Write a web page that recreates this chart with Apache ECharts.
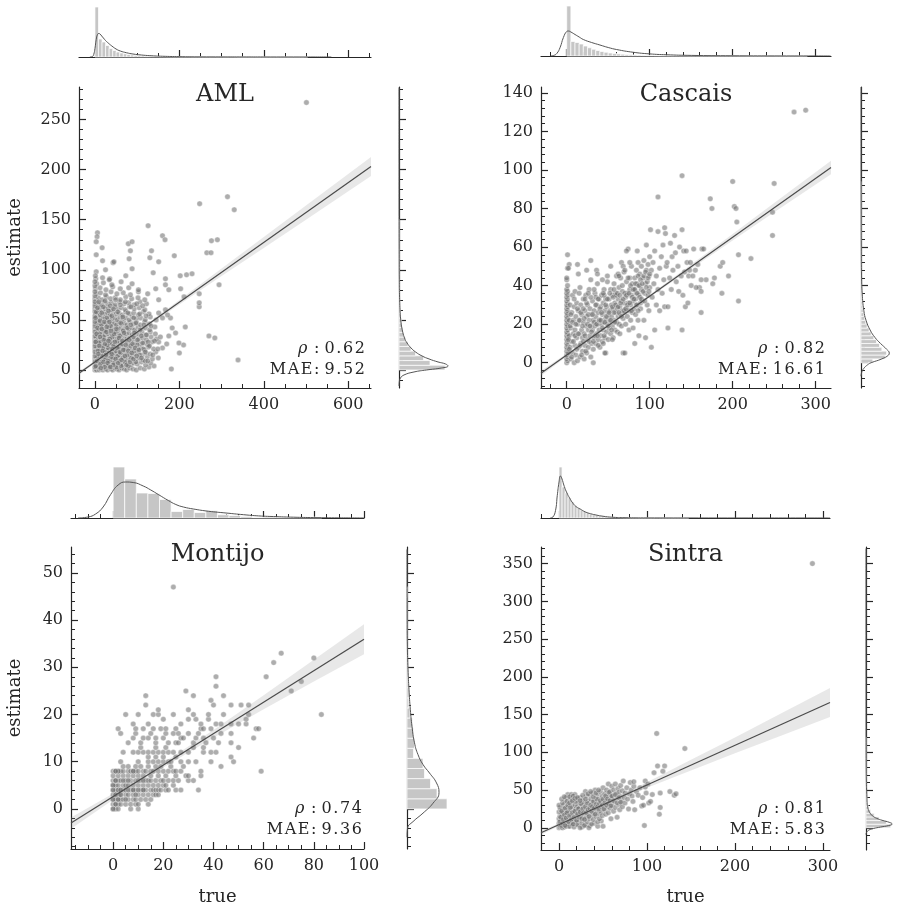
<!DOCTYPE html>
<html><head><meta charset="utf-8">
<script src="https://cdn.jsdelivr.net/npm/echarts@6/dist/echarts.min.js"></script>
<style>html,body{margin:0;padding:0;background:#fff}#c{width:898px;height:910px}</style>
</head><body><div id="c"></div>
<script>
// ================= DATA =================
const panelTitles = ['AML', 'Cascais', 'Montijo', 'Sintra'];
const statRho = ['0.62', '0.82', '0.74', '0.81'];
const statMae = ['9.52', '16.61', '9.36', '5.83'];
const xLabelText = 'true';
const yLabelText = 'estimate';

// axis ranges and tick labels
const amlXRange = [-37.8, 654], amlYRange = [-18, 282.5];
const cascaisXRange = [-31, 318.5], cascaisYRange = [-13.1, 143];
const montijoXRange = [-16.8, 100], montijoYRange = [-8.5, 55.5];
const sintraXRange = [-20.5, 308], sintraYRange = [-29.4, 372];
const amlXTicks = [0, 200, 400, 600], amlYTicks = [0, 50, 100, 150, 200, 250];
const cascaisXTicks = [0, 100, 200, 300], cascaisYTicks = [0, 20, 40, 60, 80, 100, 120, 140];
const montijoXTicks = [0, 20, 40, 60, 80, 100], montijoYTicks = [0, 10, 20, 30, 40, 50];
const sintraXTicks = [0, 100, 200, 300], sintraYTicks = [0, 50, 100, 150, 200, 250, 300, 350];

// scatter points [true, estimate]
const amlPoints = [
[0,0],[2,1],[4,0],[7,2],[10,0],[13,1],[16,3],[19,0],[22,2],[26,1],[30,0],[34,2],[38,1],[42,0],[47,2],[52,1],[57,0],[63,2],[69,1],[75,0],[82,2],[90,1],[98,0],[107,2],[117,1],[128,3],[140,4],[181,1],
[1,6],[5,5],[9,7],[12,5],[17,6],[21,8],[25,5],[29,7],[33,6],[37,5],[41,8],[46,6],[50,5],[55,7],[60,6],[66,5],[72,8],[78,6],[85,5],[92,7],[100,6],[110,8],[120,5],[132,7],
[0,11],[3,12],[6,10],[10,13],[14,11],[18,12],[23,10],[27,13],[31,11],[36,12],[40,10],[45,13],[50,11],[54,12],[59,10],[64,13],[70,11],[76,12],[83,10],[90,13],[97,11],[105,12],[114,10],[124,13],[136,11],[150,12],
[2,16],[5,15],[9,17],[13,16],[17,18],[21,15],[25,17],[30,16],[34,18],[39,15],[43,17],[48,16],[53,18],[58,15],[63,17],[69,16],[75,18],[81,15],[88,17],[95,16],[103,18],[112,15],[121,17],[131,16],[144,18],[200,17],
[0,21],[4,22],[8,20],[12,23],[16,21],[20,22],[24,20],[29,23],[33,21],[38,22],[42,20],[47,23],[52,21],[57,22],[62,20],[68,23],[74,21],[80,22],[87,20],[94,23],[101,21],[109,22],[118,20],[127,23],[139,21],[160,22],
[1,26],[5,27],[9,25],[14,28],[18,26],[22,27],[27,25],[31,28],[36,26],[40,27],[45,25],[50,28],[55,26],[60,27],[66,25],[72,28],[78,26],[85,27],[92,25],[99,28],[107,26],[116,27],[125,25],[135,28],[151,28],[170,26],[210,25],[199,27],
[0,31],[3,32],[7,30],[11,33],[15,31],[19,32],[24,30],[28,33],[33,31],[37,32],[42,30],[47,33],[52,31],[57,32],[63,30],[69,33],[75,31],[82,32],[89,30],[96,33],[104,31],[113,32],[122,30],[133,33],[146,31],[284,32],
[2,36],[6,35],[10,38],[14,36],[19,37],[23,35],[28,38],[32,36],[37,37],[41,35],[46,38],[51,36],[56,37],[62,35],[68,38],[74,36],[81,37],[88,35],[95,38],[103,36],[112,37],[121,35],[131,38],[143,36],[175,34],[191,37],[270,34],
[0,41],[4,42],[8,40],[13,43],[17,41],[22,42],[26,40],[31,43],[36,41],[40,42],[45,40],[50,43],[55,41],[61,42],[67,40],[73,43],[80,41],[87,42],[94,40],[102,43],[111,41],[120,42],[130,40],[142,43],[183,42],
[1,46],[5,47],[10,45],[15,48],[20,46],[25,47],[30,45],[35,48],[40,46],[46,47],[51,45],[57,48],[63,46],[69,47],[76,45],[83,48],[91,46],[99,47],[108,45],[118,48],[129,46],[214,43],
[0,51],[4,52],[9,50],[14,53],[19,51],[24,52],[30,50],[35,53],[41,51],[47,52],[53,50],[59,53],[66,51],[73,52],[81,50],[89,53],[98,51],[108,52],[119,50],[131,53],[160,52],[179,52],
[2,56],[7,57],[12,55],[18,58],[24,56],[30,57],[36,55],[43,58],[50,56],[57,57],[65,55],[73,58],[82,56],[92,57],[103,55],[115,58],[128,56],[151,57],[172,55],
[0,61],[5,62],[11,60],[17,63],[24,61],[31,62],[38,60],[46,63],[54,61],[63,62],[72,60],[82,63],[93,61],[105,62],[118,60],[167,60],[247,63],
[1,66],[7,67],[14,65],[22,68],[30,66],[39,67],[48,65],[58,68],[69,66],[80,67],[93,65],[107,68],[122,66],[247,67],
[0,71],[8,72],[17,70],[27,73],[37,71],[48,72],[60,70],[73,73],[87,71],[102,72],[118,70],[151,70],[211,73],
[3,76],[13,77],[25,75],[38,78],[52,76],[67,77],[84,75],[103,78],[125,76],[247,76],
[1,81],[12,82],[26,80],[42,83],[60,81],[80,82],[103,80],[144,81],[175,80],[203,81],
[4,86],[20,87],[40,85],[62,88],[88,86],[167,85],[294,85],
[2,91],[18,92],[35,91],[34,90],[73,94],[167,91],[202,94],[217,95],[230,96],
[88,101],[138,97],[3,98],[25,100],[43,107],[45,108],[18,109],[17,122],[6,137],[5,133],[3,128],[3,115],[79,126],[88,128],[84,119],[81,111],
[126,144],[160,134],[166,130],[188,114],[151,108],[134,119],[130,112],[248,166],[265,117],[275,117],[276,129],[290,130],[314,173],[330,160],[501,267],[339,10],
[1,3],[3,8],[6,13],[8,3],[11,19],[12,28],[15,8],[16,24],[18,4],[20,33],[21,11],[23,39],[24,18],[26,6],[27,29],[29,14],[31,22],[32,4],[33,42],[35,9],[36,27],[38,17],[39,3],[41,33],[43,12],[44,24],[46,7],[48,38],[49,19],[51,3],[53,29],[54,14],[56,23],[58,9],[59,34],[61,17],[62,4],[64,26],[66,12],[67,39],[70,20],[71,8],[74,29],[77,15],[79,4],[84,24],[86,12],[91,33],[93,19],[97,8],[100,25],[106,15],[110,34],[115,21],[119,9],[126,28],
[0,3],[0,8],[0,14],[0,18],[0,24],[0,28],[0,34],[0,38],[0,44],[0,48],[0,54],[0,58],[0,64],[0,68],[0,74],[0,78],[0,84],[0,88],[1,94],
[2,4],[5,9],[7,19],[9,27],[11,36],[13,6],[15,45],[17,14],[19,22],[21,30],[23,3],[25,11],[27,38],[29,25],[31,9],[33,17],[35,31],[37,44],[39,13],[41,21],[43,5],[45,36],[47,28],[49,11],[51,41],[53,22],[55,7],[57,32],[59,18],[61,47],[63,10],[65,29],[67,20],[69,37],[71,14],[73,25],[75,5],[77,42],[79,19],[81,30],[83,8],[85,45],[87,17],[89,26],[91,11],[93,37],[95,22],[97,47],[99,14],[101,30],[104,20],[107,40],[110,12],[113,27],[116,45],[119,18],[122,35],[125,9],[129,24],[133,44],[137,15],[141,29],[145,50],[149,21],[155,33],
[1,52],[3,58],[6,62],[9,68],[12,49],[16,57],[20,63],[24,69],[28,52],[32,59],[36,64],[40,54],[44,61],[49,70],[54,58],[60,65],[66,53],[72,68],[78,57],[85,63],[92,52],[99,66],[106,56],[113,64],[121,54],
[2,28],[4,36],[6,42],[8,16],[10,24],[12,33],[14,2],[16,41],[18,19],[20,8],[22,48],[24,26],[26,15],[28,43],[30,7],[32,29],[34,48],[36,3],[38,39],[40,16]
];

const cascaisPoints = [
[0,0],[1,1],[0,2],[1,3],[0,4],[1,5],[0,6],[1,7],[0,8],[1,9],[0,10],[1,11],[0,12],[1,13],[0,14],[1,15],[0,16],[1,17],[0,18],[1,19],[0,20],[1,21],[0,22],[1,23],[0,24],[1,25],[0,26],[1,27],[0,28],[1,29],[0,30],[1,31],[0,32],[1,33],[0,34],[1,35],[0,36],[1,37],[0,38],[1,40],[0,43],[0,44],[1,49],[1,56],[3,51],[2,49],
[2,5],[3,14],[3,22],[4,8],[4,30],[5,2],[5,18],[6,11],[6,26],[7,5],[7,35],[8,15],[8,22],[9,0],[9,29],[10,9],[10,17],[10,37],
[11,4],[11,24],[12,13],[12,31],[13,1],[13,20],[14,8],[14,27],[15,15],[15,36],[16,3],[16,22],[17,10],[17,30],[18,17],[18,25],[19,6],[19,13],[20,21],[20,33],[13,51],[16,39],[14,46],
[21,2],[21,15],[22,27],[22,9],[23,19],[23,35],[24,5],[24,24],[25,12],[25,30],[26,17],[26,8],[27,22],[27,38],[28,14],[28,28],[29,3],[29,19],[30,10],[30,25],[29,43],[29,53],[24,48],
[31,17],[31,32],[32,7],[32,22],[33,13],[33,27],[34,19],[34,36],[35,10],[35,24],[36,15],[36,30],[37,20],[37,41],[38,12],[38,26],[39,17],[39,33],[40,22],[40,8],[32,0],[36,48],[37,46],[35,34],
[41,14],[41,29],[42,20],[42,35],[43,11],[43,25],[44,17],[44,31],[45,21],[45,38],[46,13],[46,27],[47,23],[47,33],[48,16],[48,29],[49,20],[49,42],[50,25],[50,12],[43,43],[45,35],[47,5],[46,5],
[51,18],[51,33],[52,27],[52,22],[53,15],[53,38],[54,24],[54,30],[55,19],[55,35],[56,28],[56,13],[57,22],[57,41],[58,31],[58,17],[59,26],[59,36],[60,21],[60,45],[53,50],[58,35],
[61,28],[61,16],[62,33],[62,24],[63,20],[63,39],[64,29],[64,15],[65,25],[65,44],[66,32],[66,19],[67,27],[67,37],[68,23],[68,5],[69,31],[69,47],[70,26],[70,5],[66,52],[68,50],[62,46],
[71,34],[71,20],[72,28],[72,42],[73,24],[73,36],[74,31],[74,59],[75,27],[75,17],[76,38],[76,44],[77,30],[77,22],[78,35],[78,50],[79,26],[79,41],[80,32],[80,18],[72,58],[85,58],
[81,38],[81,28],[82,44],[82,10],[83,33],[83,25],[84,48],[84,36],[85,30],[85,41],[86,22],[86,52],[87,35],[87,14],[88,46],[88,40],[89,28],[89,31],[90,38],[90,50],[91,32],[86,27],
[92,44],[93,22],[93,53],[94,36],[95,41],[95,13],[96,48],[97,30],[98,35],[98,51],[99,27],[99,45],[100,39],[100,55],[101,69],[102,8],[102,48],[96,61],
[103,34],[104,52],[105,41],[106,17],[106,58],[108,45],[108,30],[110,38],[110,68],[110,86],[112,49],[112,27],[114,55],[115,36],[116,61],[117,43],[118,70],[118,29],[119,67],[120,50],[122,18],[122,29],[121,52],
[124,44],[125,62],[126,38],[127,55],[128,48],[130,66],[131,57],[132,42],[134,50],[135,37],[136,60],[138,45],[139,69],[139,97],[140,35],[141,58],[142,47],[143,29],[144,58],[145,52],[146,31],[147,45],[148,48],[149,52],[150,40],[139,17],
[152,45],[155,48],[158,51],[160,39],[162,26],[163,59],[165,59],[162,37],[168,43],[173,85],[175,80],[176,41],[178,44],[185,50],[187,36],[188,52],[195,45],[200,94],[202,81],[204,80],[205,73],[207,32],[207,56],[222,54],[250,93],[248,78],[248,66],[274,130],[288,131],[162,43],[153,59],[156,39],
[2,12],[3,7],[4,19],[5,25],[6,3],[7,21],[8,11],[9,33],[10,14],[11,20],[12,7],[13,28],[14,15],[15,22],[16,9],[17,26],[18,4],[19,19],[20,11],[20,28],
[21,23],[22,14],[23,6],[24,31],[25,20],[26,25],[27,11],[28,19],[29,34],[30,16],[31,25],[32,11],[33,21],[34,14],[35,30],[36,20],[37,14],[38,33],[39,22],[40,28],[22,33],[26,36],[33,38],[38,9],
[41,22],[42,26],[43,18],[44,36],[45,14],[46,21],[47,30],[48,24],[49,33],[50,19],[51,26],[52,36],[53,22],[54,17],[55,29],[56,34],[57,26],[58,21],[59,30],[60,35],[44,10],[55,12],[49,45],[57,38],
[61,36],[62,29],[63,26],[64,35],[65,31],[66,24],[67,40],[68,33],[69,27],[70,36],[71,28],[72,35],[73,30],[74,44],[75,36],[76,31],[77,40],[78,27],[79,34],[80,38],[63,45],[70,48],[76,52],
[81,33],[82,38],[83,41],[84,30],[85,36],[86,45],[87,40],[88,34],[89,43],[90,33],[91,41],[92,37],[93,45],[94,32],[95,47],[96,39],[97,42],[98,44],[99,37],[100,46]
];

const montijoPoints = [
[0,0],[1,0],[2,0],[7,0],[10,0],
[0,1],[1,1],[2,1],[3,1],[5,1],[7,1],[9,1],[10,1],[14,1],
[0,2],[1,2],[2,2],[3,2],[4,2],[6,2],[8,2],[9,2],[11,2],[13,2],[15,2],
[0,3],[1,3],[2,3],[3,3],[5,3],[6,3],[8,3],[10,3],[12,3],[14,3],[16,3],[17,3],[18,3],
[0,4],[1,4],[2,4],[3,4],[4,4],[5,4],[7,4],[8,4],[9,4],[11,4],[12,4],[13,4],[15,4],[16,4],[17,4],[18,4],[19,4],[21,4],[22,4],[25,4],[27,4],[34,4],
[0,5],[1,5],[2,5],[4,5],[5,5],[6,5],[8,5],[10,5],[12,5],[14,5],[16,5],[18,5],[20,5],[21,5],[24,5],
[0,6],[1,6],[2,6],[3,6],[5,6],[7,6],[9,6],[11,6],[13,6],[14,6],[15,6],[17,6],[19,6],[20,6],[22,6],[24,6],[26,6],[30,6],[32,6],
[0,7],[2,7],[4,7],[6,7],[8,7],[10,7],[12,7],[15,7],[18,7],[21,7],[25,7],[29,7],[30,7],[35,7],
[0,8],[1,8],[2,8],[3,8],[4,8],[6,8],[7,8],[8,8],[9,8],[10,8],[12,8],[13,8],[15,8],[16,8],[18,8],[20,8],[22,8],[24,8],[25,8],[27,8],[35,8],[59,8],
[4,9],[6,9],[9,9],[11,9],[14,9],[17,9],[19,9],[23,9],[28,9],[43,9],
[3,10],[10,10],[14,10],[16,10],[18,10],[20,10],[22,10],[23,10],[27,10],[30,10],[33,10],[39,10],[48,10],
[14,11],[17,11],[20,11],[25,11],[47,11],
[4,12],[8,12],[10,12],[12,12],[14,12],[16,12],[18,12],[20,12],[22,12],[24,12],[27,12],[30,12],[36,12],[39,12],[41,12],
[11,13],[17,13],[21,13],[32,13],[36,13],[50,13],
[6,14],[11,14],[17,14],[22,14],[25,14],[26,14],[32,14],[37,14],[42,14],[47,14],
[8,15],[12,15],[14,15],[17,15],[20,15],[27,15],[28,15],[33,15],[36,15],[40,15],[56,15],
[3,16],[9,16],[15,16],[21,16],[24,16],[26,16],[30,16],[34,16],[43,16],[47,16],
[2,17],[9,17],[12,17],[16,17],[19,17],[21,17],[25,17],[35,17],[36,17],[39,17],[57,17],[58,17],
[8,18],[14,18],[27,18],[35,18],[41,18],[43,18],[47,18],[50,18],[53,18],
[20,19],[30,19],[33,19],[38,19],[53,19],
[5,20],[10,20],[16,20],[18,20],[24,20],[32,20],[38,20],[44,20],[54,20],[83,20],
[18,21],[30,21],
[13,22],[40,22],[47,22],[51,22],[54,22],
[39,23],[13,24],[32,24],[44,24],[29,25],[71,25],[41,26],[75,27],[41,28],[61,28],[64,31],[80,32],[67,33],[24,47],
[0,2],[1,3],[2,4],[0,5],[1,6],[2,8],[3,4],[4,6],[5,2],[6,4],[8,4],[9,3],[10,6],[12,4],[0,0],[1,1],[2,2],[3,3],[0,4],[1,8],[6,6],[8,8],[10,4],[12,6]
];

const sintraPoints = [
[0,0],[1,3],[0,6],[2,9],[0,12],[1,15],[3,18],[0,21],[2,24],[1,27],[0,30],[3,1],[2,5],[1,1],[2,2],[4,0],[6,1],[8,4],[11,2],[14,6],[17,8],[20,5],[26,1],[30,4],[35,3],[40,6],[44,2],[48,9],
[3,3],[4,12],[5,20],[5,30],[6,7],[6,25],[7,15],[7,36],[8,2],[8,19],[9,28],[9,10],[10,5],[10,22],[10,44],[4,33],[8,40],
[11,14],[11,31],[12,2],[12,24],[13,9],[13,38],[14,17],[14,44],[15,4],[15,28],[16,12],[16,35],[17,21],[17,1],[18,30],[18,44],[19,8],[19,25],[20,16],[20,38],[12,41],[16,42],
[21,4],[21,29],[22,19],[22,34],[23,10],[23,26],[24,0],[24,40],[25,15],[25,22],[26,31],[26,6],[27,18],[27,37],[28,27],[28,12],[29,3],[29,33],[30,21],[30,48],[31,14],[31,42],
[32,25],[32,8],[33,35],[33,18],[34,0],[34,29],[35,44],[35,12],[36,22],[36,38],[37,5],[37,31],[38,17],[38,46],[39,26],[39,11],[40,35],[40,20],[41,50],[41,28],
[42,15],[42,40],[43,24],[43,33],[44,8],[44,45],[45,19],[45,30],[46,38],[46,12],[47,26],[47,48],[48,21],[48,34],[49,42],[49,16],[50,2],[50,29],[50,53],[51,37],
[52,24],[52,45],[53,31],[53,18],[54,40],[54,50],[55,28],[55,35],[56,20],[56,58],[57,43],[57,32],[58,26],[58,48],[59,38],[59,12],[60,55],[60,30],[61,42],[62,22],
[62,50],[63,35],[64,27],[64,58],[65,45],[66,39],[66,14],[67,52],[68,31],[68,47],[69,24],[70,41],[70,56],[71,35],[72,49],[72,28],[73,62],[74,40],[75,46],[75,33],
[77,53],[78,38],[79,25],[80,45],[81,60],[82,50],[83,42],[84,35],[85,55],[85,61],[86,24],[88,48],[90,43],[92,53],[94,29],[95,40],[96,30],[97,3],[98,54],[98,62],[99,46],[101,58],[102,33],[104,35],[106,44],[108,73],
[111,125],[112,82],[114,18],[115,27],[115,46],[118,75],[120,82],[126,48],[131,43],[133,45],[143,105],[288,350],
[1,8],[2,14],[3,22],[4,6],[5,11],[6,17],[7,3],[7,26],[8,13],[9,20],[10,30],[11,8],[12,16],[13,27],[14,11],[15,20],[16,5],[17,14],[18,22],[19,35],[20,10],[21,18],[22,25],[23,14],[24,21],[25,32],[26,12],[27,25],[28,20],[29,11],[30,28],[31,20],[32,33],[33,24],[34,15],[35,26],[36,30],[37,22],[38,28],[39,35],[40,26],[41,18],[42,31],[43,38],[44,28],[45,25],[46,32],[47,36],[48,28],[49,30],[50,38],[51,25],[52,33],[53,42],[54,30],[55,38],[56,32],[57,47],[58,36],[59,29],[60,42],[62,36],[64,44],[66,33],[68,40],[70,34],
[3,38],[6,41],[9,35],[12,33],[15,36],[18,39],[21,40],[24,36],[27,43],[30,38],[33,45],[36,48],[39,41],[42,46],[45,50]
];

// regression fits and 95% bands
const amlLineX = [-37.8, 654], amlLineY = [-3.3, 203.1];
const amlBandX = [-37.8, 0, 50, 100, 200, 300, 400, 500, 654];
const amlBandLo = [-5.1, 6.7, 21.9, 36.7, 65.4, 93.7, 121.8, 149.9, 193.6];
const amlBandHi = [-1.5, 9.3, 23.9, 38.9, 69.8, 101.3, 132.8, 164.3, 212.6];
const cascaisLineX = [-31, 318.5], cascaisLineY = [-5.5, 101.3];
const cascaisBandX = [-31, 0, 50, 100, 150, 200, 250, 318.5];
const cascaisBandLo = [-6.8, 3.2, 18.7, 33.9, 48.7, 63.4, 78.0, 97.8];
const cascaisBandHi = [-4.2, 4.8, 19.9, 35.3, 50.9, 66.8, 82.8, 104.8];
const montijoLineX = [-16.8, 100], montijoLineY = [-3.0, 35.95];
const montijoBandX = [-16.8, 0, 20, 40, 60, 80, 100];
const montijoBandLo = [-4.2, 1.95, 8.77, 15.1, 21.1, 27.0, 32.75];
const montijoBandHi = [-1.8, 3.25, 9.77, 16.7, 24.1, 31.6, 39.15];
const sintraLineX = [-20.5, 308], sintraLineY = [-6.6, 166.0];
const sintraBandX = [-20.5, 0, 50, 100, 150, 200, 250, 308];
const sintraBandLo = [-9.1, 2.4, 28.9, 53.2, 76.0, 98.8, 121.1, 146.8];
const sintraBandHi = [-4.1, 6.0, 32.1, 60.2, 90.0, 119.8, 150.1, 185.2];

// marginal histograms (relative heights) and KDE curves
const amlTopBinWidth = 8.4;
const amlTopHist = [1.0,0.36,0.3,0.23,0.17,0.13,0.1,0.08,0.065,0.05,0.04,0.033,0.027,0.022,0.018,0.015,0.012,0.01,0.008,0.007,0.006,0.005,0.004,0.004,0.003,0.003,0.003,0.002,0.002,0.002,0.002,0.002,0.001,0.002,0.001,0.002,0.001,0.001,0.002,0.001,0,0,0,0,0,0,0,0,0,0,0,0,0,0,0,0,0,0,0,0.002];
const amlTopKdeX = [-12,-6,-3,0,3,6,9,12,16,20,25,30,40,50,60,75,90,110,130,160,200,250,300,350,400,500,560];
const amlTopKdeY = [0,0.01,0.05,0.17,0.35,0.45,0.47,0.46,0.42,0.38,0.33,0.29,0.22,0.16,0.12,0.085,0.06,0.04,0.027,0.015,0.007,0.003,0.002,0.0015,0.001,0.0005,0];
const amlRightBinWidth = 4.7;
const amlRightHist = [0.92,0.62,0.49,0.33,0.24,0.18,0.13,0.095,0.075,0.055,0.045,0.035,0.027,0.02,0.016,0.013,0.011,0.009,0.008,0.007,0.006,0.005,0.004,0.004,0.003,0.003,0.002,0.002,0.002,0.002,0.001,0.001];
const amlRightKdeY = [-16,-12,-8,-5,-2,0,2,4,6,8,11,14,18,22,27,32,40,50,60,75,90,120,160,200,270,282];
const amlRightKdeW = [0,0.005,0.03,0.1,0.3,0.55,0.85,0.98,0.93,0.78,0.6,0.46,0.33,0.24,0.16,0.11,0.065,0.035,0.02,0.01,0.006,0.003,0.0015,0.001,0.0005,0];

const cascaisTopBinWidth = 5;
const cascaisTopHist = [1.0,0.29,0.27,0.24,0.2,0.165,0.135,0.11,0.09,0.075,0.06,0.05,0.042,0.036,0.03,0.025,0.021,0.018,0.015,0.012,0.01,0.008,0.007,0.006,0.005,0.004,0.004,0.003,0.003,0.002,0.002,0.002,0.001,0.002,0.001,0.001,0.001,0.001,0.001,0.001,0.002,0.001,0.001,0,0,0,0,0,0.001,0.001,0,0,0,0,0.001,0.001,0,0.001];
const cascaisTopKdeX = [-20,-16,-12,-8,-4,0,2,5,10,15,20,30,40,50,60,80,100,120,150,200,250,300,318];
const cascaisTopKdeY = [0,0.01,0.05,0.17,0.37,0.49,0.5,0.48,0.43,0.38,0.33,0.27,0.22,0.17,0.13,0.075,0.042,0.025,0.012,0.005,0.002,0.001,0];
const cascaisRightBinWidth = 2;
const cascaisRightHist = [0.35,0.72,0.76,0.62,0.55,0.46,0.38,0.3,0.24,0.18,0.14,0.11,0.085,0.065,0.05,0.04,0.033,0.027,0.022,0.018,0.015,0.012,0.01,0.009,0.008,0.007,0.006,0.005,0.005,0.004,0.004,0.003,0.003,0.003,0.002,0.002,0.002,0.002,0.001,0.002,0.001,0.001,0.001,0.001,0.001,0.001,0.001];
const cascaisRightKdeY = [-7,-5,-3,-1,0,2,4,5,7,10,13,17,22,27,36,45,60,80,100,130,143];
const cascaisRightKdeW = [0,0.02,0.08,0.2,0.3,0.62,0.82,0.84,0.76,0.58,0.42,0.27,0.15,0.085,0.035,0.016,0.007,0.003,0.0015,0.0005,0];

const montijoTopBinWidth = 4.62;
const montijoTopHist = [1.02,0.78,0.5,0.49,0.37,0.13,0.17,0.11,0.15,0.065,0.05,0.03,0.01,0.02,0.01,0.01,0.01,0.02];
const montijoTopKdeX = [-14,-10,-7,-4,-1,2,5,8,12,15,18,22,25,28,32,38,45,52,58,65,72,80,90,100];
const montijoTopKdeY = [0,0.02,0.08,0.22,0.47,0.66,0.72,0.71,0.64,0.56,0.47,0.35,0.27,0.22,0.18,0.135,0.1,0.066,0.042,0.027,0.016,0.008,0.003,0.001];
const montijoRightBinWidth = 2.14;
const montijoRightHist = [0.8,0.6,0.47,0.35,0.32,0.13,0.15,0.13,0.11,0.06,0.035,0.04,0.025,0.015,0.01,0.005,0,0,0,0,0,0.005];
const montijoRightKdeY = [-6,-4.1,-2.7,-0.9,1.2,3.5,5.5,7.6,9.4,11.5,14,17.5,21,25.3,29.6,34.5,40,48,55];
const montijoRightKdeW = [0,0.01,0.12,0.32,0.52,0.64,0.59,0.45,0.32,0.22,0.15,0.1,0.067,0.04,0.02,0.007,0.002,0.001,0];

const sintraTopBinWidth = 3.43;
const sintraTopHist = [1.02,0.62,0.5,0.4,0.32,0.25,0.2,0.16,0.13,0.1,0.08,0.065,0.052,0.042,0.034,0.027,0.021,0.017,0.013,0.01,0.008,0.006,0.005,0.004,0.003,0.003,0.002,0.002,0.002,0.002,0.001,0.002,0.003,0.002,0.001,0.001,0.001,0.001,0.001,0.001,0.001,0.001,0.001];
const sintraTopKdeX = [-10,-7,-4,-2,0,1.5,3,6,9,12,16,20,24,30,36,42,50,60,75,100,150,200,290,308];
const sintraTopKdeY = [0,0.02,0.15,0.45,0.72,0.84,0.8,0.63,0.5,0.4,0.29,0.22,0.18,0.12,0.085,0.06,0.035,0.016,0.006,0.002,0.001,0.0005,0.0005,0];
const sintraRightBinWidth = 4.8;
const sintraRightHist = [0.85,0.7,0.45,0.28,0.16,0.1,0.06,0.04,0.03,0.02,0.012,0.008,0.006,0.005,0.004,0.003,0.002,0.002,0,0,0,0,0,0,0.002];
const sintraRightKdeY = [-9,-6,-3,-1,1,3,5,7,10,12.5,15,17,20,23,27,31,36,42,50,60,80,120,200,370];
const sintraRightKdeW = [0,0.02,0.1,0.25,0.5,0.78,0.9,0.82,0.55,0.37,0.25,0.19,0.13,0.09,0.06,0.045,0.035,0.03,0.02,0.012,0.005,0.0015,0.0005,0];

// ================= BUILD =================
const FONT = '"DejaVu Serif", serif';
const INK = '#262626';
const HS = '\u200A';
function spaced(s) { return s.split('').join(HS); }
const panels = [
  {pts: amlPoints, xr: amlXRange, yr: amlYRange, xt: amlXTicks, yt: amlYTicks, xs: 50, ys: 10,
   lx: amlLineX, ly: amlLineY, bx: amlBandX, bl: amlBandLo, bh: amlBandHi,
   tw: amlTopBinWidth, th: amlTopHist, tkx: amlTopKdeX, tky: amlTopKdeY,
   rw: amlRightBinWidth, rh: amlRightHist, rky: amlRightKdeY, rkw: amlRightKdeW},
  {pts: cascaisPoints, xr: cascaisXRange, yr: cascaisYRange, xt: cascaisXTicks, yt: cascaisYTicks, xs: 20, ys: 4,
   lx: cascaisLineX, ly: cascaisLineY, bx: cascaisBandX, bl: cascaisBandLo, bh: cascaisBandHi,
   tw: cascaisTopBinWidth, th: cascaisTopHist, tkx: cascaisTopKdeX, tky: cascaisTopKdeY,
   rw: cascaisRightBinWidth, rh: cascaisRightHist, rky: cascaisRightKdeY, rkw: cascaisRightKdeW},
  {pts: montijoPoints, xr: montijoXRange, yr: montijoYRange, xt: montijoXTicks, yt: montijoYTicks, xs: 5, ys: 2,
   lx: montijoLineX, ly: montijoLineY, bx: montijoBandX, bl: montijoBandLo, bh: montijoBandHi,
   tw: montijoTopBinWidth, th: montijoTopHist, tkx: montijoTopKdeX, tky: montijoTopKdeY,
   rw: montijoRightBinWidth, rh: montijoRightHist, rky: montijoRightKdeY, rkw: montijoRightKdeW},
  {pts: sintraPoints, xr: sintraXRange, yr: sintraYRange, xt: sintraXTicks, yt: sintraYTicks, xs: 20, ys: 10,
   lx: sintraLineX, ly: sintraLineY, bx: sintraBandX, bl: sintraBandLo, bh: sintraBandHi,
   tw: sintraTopBinWidth, th: sintraTopHist, tkx: sintraTopKdeX, tky: sintraTopKdeY,
   rw: sintraRightBinWidth, rh: sintraRightHist, rky: sintraRightKdeY, rkw: sintraRightKdeW}
];
const layouts = [
  {main:{left:79, top:87, width:292, height:301}, top:{left:79, top:2, width:292, height:55}, right:{left:399, top:87, width:55, height:301}, tx:225, ty:95, sx:365, sy:[349,370], ylab:[15,237.5], xlab:null},
  {main:{left:541, top:87, width:290, height:301}, top:{left:541, top:1, width:290, height:55}, right:{left:861, top:87, width:55, height:301}, tx:686, ty:95, sx:825, sy:[349,370], ylab:null, xlab:null},
  {main:{left:71, top:547, width:293, height:302}, top:{left:71, top:463, width:293, height:55}, right:{left:407, top:547, width:55, height:302}, tx:217.5, ty:555, sx:362, sy:[809,830], ylab:[15,698], xlab:[217.5,897]},
  {main:{left:541, top:547, width:289, height:303}, top:{left:541, top:463, width:289, height:55}, right:{left:866, top:547, width:55, height:303}, tx:685.5, ty:555, sx:825, sy:[809,830], ylab:null, xlab:[685.5,897]}
];

function stepValues(min, max, step) {
  const out = [];
  for (let k = Math.ceil(min / step - 1e-9); k * step <= max + 1e-9; k++) out.push(+(k * step).toFixed(6));
  return out;
}
function majorAxis(dim, g, r, ticks, labels) {
  return {
    type: 'value', gridIndex: g, min: r[0], max: r[1], position: dim === 'x' ? 'bottom' : 'left',
    axisLine: {show: true, onZero: false, lineStyle: {color: INK, width: 1.2}},
    axisTick: {show: true, inside: true, length: 7, customValues: ticks, lineStyle: {color: INK, width: 1.2}},
    axisLabel: {show: labels, customValues: ticks, margin: dim === 'x' ? 9 : 8, color: INK, fontFamily: FONT, fontSize: 16},
    splitLine: {show: false}
  };
}
function minorAxis(dim, g, r, step) {
  return {
    type: 'value', gridIndex: g, min: r[0], max: r[1], position: dim === 'x' ? 'bottom' : 'left',
    axisLine: {show: false, onZero: false},
    axisTick: {show: true, inside: true, length: 4, customValues: stepValues(r[0], r[1], step), lineStyle: {color: INK, width: 1}},
    axisLabel: {show: false}, splitLine: {show: false}
  };
}
function hiddenAxis(g) { return {type: 'value', gridIndex: g, min: 0, max: 1.1, show: false}; }

const grid = [], xAxis = [], yAxis = [], series = [], graphic = [];
panels.forEach((p, i) => {
  const L = layouts[i];
  const gM = grid.length; grid.push(L.main);
  const gT = grid.length; grid.push(L.top);
  const gR = grid.length; grid.push(L.right);
  const xM = xAxis.length; xAxis.push(majorAxis('x', gM, p.xr, p.xt, true)); xAxis.push(minorAxis('x', gM, p.xr, p.xs));
  const yM = yAxis.length; yAxis.push(majorAxis('y', gM, p.yr, p.yt, true)); yAxis.push(minorAxis('y', gM, p.yr, p.ys));
  const xT = xAxis.length; xAxis.push(majorAxis('x', gT, p.xr, p.xt, false)); xAxis.push(minorAxis('x', gT, p.xr, p.xs));
  const yT = yAxis.length; yAxis.push(hiddenAxis(gT));
  const yR = yAxis.length; yAxis.push(majorAxis('y', gR, p.yr, p.yt, false)); yAxis.push(minorAxis('y', gR, p.yr, p.ys));
  const xR = xAxis.length; xAxis.push(hiddenAxis(gR));

  series.push({type: 'scatter', xAxisIndex: xM, yAxisIndex: yM, data: p.pts, symbolSize: 5.5, z: 2,
    itemStyle: {color: 'rgba(112,112,112,0.72)', borderColor: 'rgba(255,255,255,0.75)', borderWidth: 0.6}});
  series.push({type: 'custom', xAxisIndex: xM, yAxisIndex: yM, z: 3, data: [[p.bx[0], p.bl[0]]], encode: {x: 0, y: 1},
    renderItem: (params, api) => {
      const pts = [];
      for (let k = 0; k < p.bx.length; k++) pts.push(api.coord([p.bx[k], p.bh[k]]));
      for (let k = p.bx.length - 1; k >= 0; k--) pts.push(api.coord([p.bx[k], p.bl[k]]));
      return {type: 'polygon', shape: {points: pts}, style: {fill: 'rgba(140,140,140,0.2)'}};
    }});
  series.push({type: 'line', xAxisIndex: xM, yAxisIndex: yM, z: 4, data: p.lx.map((x, k) => [x, p.ly[k]]),
    showSymbol: false, lineStyle: {color: '#4a4a4a', width: 1.2}});
  series.push({type: 'custom', xAxisIndex: xT, yAxisIndex: yT, z: 2,
    data: p.th.map((h, k) => [k * p.tw, (k + 1) * p.tw, h]), encode: {x: [0, 1], y: 2},
    renderItem: (params, api) => {
      const a = api.coord([api.value(0), 0]), b = api.coord([api.value(1), api.value(2)]);
      return {type: 'rect', shape: {x: a[0], y: b[1], width: b[0] - a[0], height: a[1] - b[1]},
        style: {fill: '#c6c6c6', stroke: '#ffffff', lineWidth: 0.7}};
    }});
  series.push({type: 'line', xAxisIndex: xT, yAxisIndex: yT, z: 3, smooth: true, showSymbol: false,
    data: p.tkx.map((x, k) => [x, p.tky[k]]), lineStyle: {color: '#555', width: 1}});
  series.push({type: 'custom', xAxisIndex: xR, yAxisIndex: yR, z: 2,
    data: p.rh.map((w, k) => [k * p.rw, (k + 1) * p.rw, w]), encode: {y: [0, 1], x: 2},
    renderItem: (params, api) => {
      const a = api.coord([0, api.value(0)]), b = api.coord([api.value(2), api.value(1)]);
      return {type: 'rect', shape: {x: a[0], y: b[1], width: b[0] - a[0], height: a[1] - b[1]},
        style: {fill: '#c6c6c6', stroke: '#ffffff', lineWidth: 0.7}};
    }});
  series.push({type: 'line', xAxisIndex: xR, yAxisIndex: yR, z: 3, smooth: true, showSymbol: false,
    data: p.rky.map((y, k) => [p.rkw[k], y]), lineStyle: {color: '#555', width: 1}});

  graphic.push({type: 'text', x: L.tx, y: L.ty, z: 10, style: {text: panelTitles[i], font: '24px ' + FONT, fill: INK,
    align: 'center', verticalAlign: 'middle'}});
  graphic.push({type: 'text', x: L.sx, y: L.sy[0], z: 10, style: {text: '{r|ρ}' + HS + ' : ' + spaced(statRho[i]), font: '16px ' + FONT, fill: INK,
    align: 'right', verticalAlign: 'middle', rich: {r: {fontStyle: 'italic', fontSize: 16, fontFamily: FONT, fill: INK}}}});
  graphic.push({type: 'text', x: L.sx, y: L.sy[1], z: 10, style: {text: spaced('MAE:') + ' ' + spaced(statMae[i]), font: '16px ' + FONT, fill: INK,
    align: 'right', verticalAlign: 'middle'}});
  if (L.ylab) graphic.push({type: 'text', x: L.ylab[0], y: L.ylab[1], rotation: Math.PI / 2, z: 10,
    style: {text: yLabelText, font: '18px ' + FONT, fill: INK, align: 'center', verticalAlign: 'middle'}});
  if (L.xlab) graphic.push({type: 'text', x: L.xlab[0], y: L.xlab[1], z: 10,
    style: {text: xLabelText, font: '18px ' + FONT, fill: INK, align: 'center', verticalAlign: 'middle'}});
});

const chart = echarts.init(document.getElementById('c'), null, {renderer: 'canvas'});
chart.setOption({animation: false, backgroundColor: '#ffffff', grid, xAxis, yAxis, series, graphic});
</script>
</body></html>
